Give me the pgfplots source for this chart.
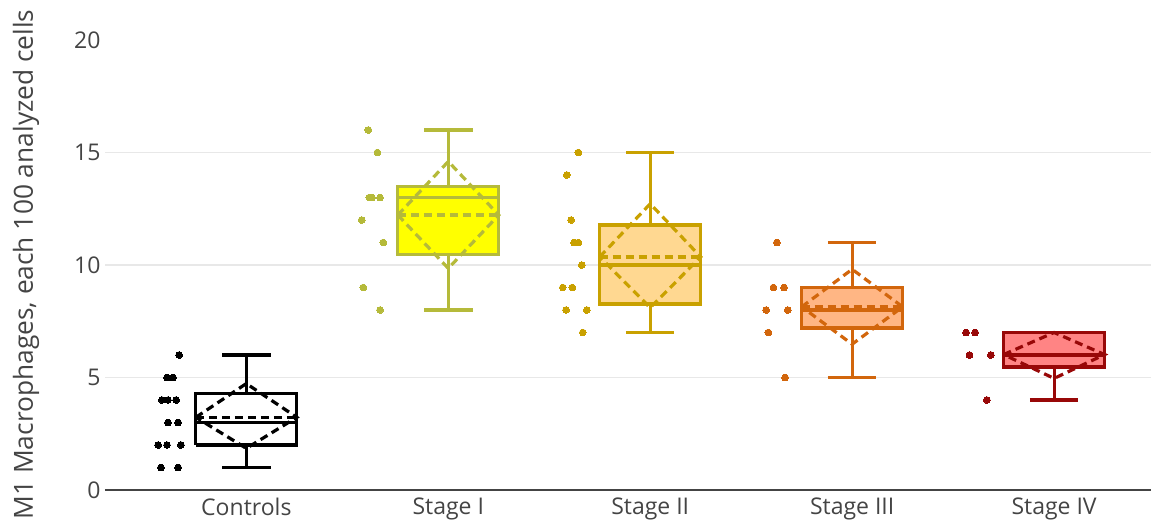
\documentclass[border=0pt]{standalone}
\usepackage{fontspec}
\setmainfont{Open Sans}
\usepackage{pgfplots}
\pgfplotsset{compat=1.18}
\definecolor{txt}{RGB}{68,68,68}
\definecolor{gridc}{RGB}{232,232,232}
\definecolor{zeroc}{RGB}{68,68,68}
\definecolor{lc0}{RGB}{0,0,0}
\definecolor{lc1}{RGB}{181,186,58}
\definecolor{fc1}{RGB}{255,255,0}
\definecolor{lc2}{RGB}{201,161,0}
\definecolor{fc2}{RGB}{255,216,145}
\definecolor{lc3}{RGB}{210,102,12}
\definecolor{fc3}{RGB}{255,182,132}
\definecolor{lc4}{RGB}{152,8,8}
\definecolor{fc4}{RGB}{255,132,132}
\begin{document}
\begin{tikzpicture}[font=\fontsize{23}{27}\selectfont]
\useasboundingbox (-105pt,-30pt) rectangle (1046pt,490pt);
\begin{axis}[
  at={(0pt,0pt)}, anchor=south west,
  scale only axis, width=1046pt, height=450pt,
  xmin=-0.7, xmax=4.48, ymin=0, ymax=20,
  axis x line*=bottom, axis y line*=left,
  x axis line style={draw=zeroc, line width=2.5pt},
  y axis line style={draw=none},
  xtick={0,1,2,3,4},
  xticklabels={Controls, Stage I, Stage II, Stage III, Stage IV},
  ytick={0,5,10,15},
  extra y ticks={20},
  extra y tick style={grid=none},
  ymajorgrids,
  grid style={draw=gridc, line width=1.5pt},
  major tick length=0pt,
  tick label style={text=txt, font=\fontsize{23}{27}\selectfont},
  xticklabel style={anchor=north, yshift=-4pt},
  yticklabel style={anchor=east, xshift=-1pt},
  /pgf/number format/assume math mode=true,
  clip=false,
  every axis plot/.append style={line width=3.2pt},
]
% ---------- Controls ----------
\addplot[draw=lc0] coordinates {(-0.25,2) (0.25,2) (0.25,4.28) (-0.25,4.28) (-0.25,2)};
\addplot[lc0] coordinates {(-0.25,3) (0.25,3)};
\addplot[lc0] coordinates {(0,4.28) (0,6)};
\addplot[lc0] coordinates {(0,2) (0,1)};
\addplot[lc0] coordinates {(-0.12,6) (0.12,6)};
\addplot[lc0] coordinates {(-0.12,1) (0.12,1)};
\addplot[lc0, dash pattern=on 8pt off 5pt] coordinates {(-0.25,3.23) (0.25,3.23)};
\addplot[lc0, dash pattern=on 8pt off 5pt] coordinates {(-0.25,3.23) (0,4.73) (0.25,3.23) (0,1.85) (-0.25,3.23)};
\addplot[only marks, mark=*, mark size=3.4pt, line width=0pt, lc0] coordinates {
(-0.333,6) (-0.393,5) (-0.363,5) (-0.418,4) (-0.388,4) (-0.348,4)
(-0.388,3) (-0.338,3) (-0.437,2) (-0.393,2) (-0.324,2) (-0.423,1) (-0.338,1)};
% ---------- Stage I ----------
\addplot[draw=lc1, fill=fc1] coordinates {(0.75,10.47) (1.25,10.47) (1.25,13.5) (0.75,13.5)} --cycle;
\addplot[lc1] coordinates {(0.75,13) (1.25,13)};
\addplot[lc1] coordinates {(1,13.5) (1,16)};
\addplot[lc1] coordinates {(1,10.47) (1,8)};
\addplot[lc1] coordinates {(0.88,16) (1.12,16)};
\addplot[lc1] coordinates {(0.88,8) (1.12,8)};
\addplot[lc1, dash pattern=on 8pt off 5pt] coordinates {(0.75,12.22) (1.25,12.22)};
\addplot[lc1, dash pattern=on 8pt off 5pt] coordinates {(0.75,12.22) (1,14.6) (1.25,12.22) (1,9.85) (0.75,12.22)};
\addplot[only marks, mark=*, mark size=3.4pt, line width=0pt, lc1] coordinates {
(0.604,16) (0.649,15) (0.609,13) (0.622,13) (0.662,13) (0.571,12) (0.678,11) (0.579,9) (0.662,8)};
% ---------- Stage II ----------
\addplot[draw=lc2, fill=fc2] coordinates {(1.75,8.27) (2.25,8.27) (2.25,11.78) (1.75,11.78)} --cycle;
\addplot[lc2] coordinates {(1.75,10) (2.25,10)};
\addplot[lc2] coordinates {(2,11.78) (2,15)};
\addplot[lc2] coordinates {(2,8.27) (2,7)};
\addplot[lc2] coordinates {(1.88,15) (2.12,15)};
\addplot[lc2] coordinates {(1.88,7) (2.12,7)};
\addplot[lc2, dash pattern=on 8pt off 5pt] coordinates {(1.75,10.36) (2.25,10.36)};
\addplot[lc2, dash pattern=on 8pt off 5pt] coordinates {(1.75,10.36) (2,12.72) (2.25,10.36) (2,8.1) (1.75,10.36)};
\addplot[only marks, mark=*, mark size=3.4pt, line width=0pt, lc2] coordinates {
(1.644,15) (1.587,14) (1.608,12) (1.623,11) (1.644,11) (1.661,10) (1.567,9) (1.614,9) (1.583,8) (1.686,8) (1.666,7)};
% ---------- Stage III ----------
\addplot[draw=lc3, fill=fc3] coordinates {(2.75,7.2) (3.25,7.2) (3.25,9) (2.75,9)} --cycle;
\addplot[lc3] coordinates {(2.75,8) (3.25,8)};
\addplot[lc3] coordinates {(3,9) (3,11)};
\addplot[lc3] coordinates {(3,7.2) (3,5)};
\addplot[lc3] coordinates {(2.88,11) (3.12,11)};
\addplot[lc3] coordinates {(2.88,5) (3.12,5)};
\addplot[lc3, dash pattern=on 8pt off 5pt] coordinates {(2.75,8.14) (3.25,8.14)};
\addplot[lc3, dash pattern=on 8pt off 5pt] coordinates {(2.75,8.14) (3,9.81) (3.25,8.14) (3,6.48) (2.75,8.14)};
\addplot[only marks, mark=*, mark size=3.4pt, line width=0pt, lc3] coordinates {
(2.627,11) (2.610,9) (2.663,9) (2.574,8) (2.681,8) (2.585,7) (2.668,5)};
% ---------- Stage IV ----------
\addplot[draw=lc4, fill=fc4] coordinates {(3.75,5.47) (4.25,5.47) (4.25,7) (3.75,7)} --cycle;
\addplot[lc4] coordinates {(3.75,6) (4.25,6)};
\addplot[lc4] coordinates {(4,5.47) (4,4)};
\addplot[lc4] coordinates {(3.88,7) (4.12,7)};
\addplot[lc4] coordinates {(3.88,4) (4.12,4)};
\addplot[lc4, dash pattern=on 8pt off 5pt] coordinates {(3.75,6.02) (4.25,6.02)};
\addplot[lc4, dash pattern=on 8pt off 5pt] coordinates {(3.75,6.02) (4,7) (4.25,6.02) (4,4.96) (3.75,6.02)};
\addplot[only marks, mark=*, mark size=3.4pt, line width=0pt, lc4] coordinates {
(3.564,7) (3.609,7) (3.581,6) (3.687,6) (3.667,4)};
\end{axis}
\node[rotate=90, anchor=base, text=txt, font=\fontsize{26.3}{30}\selectfont, inner sep=0pt] at (-72pt,225.5pt) {M1 Macrophages, each 100 analyzed cells};
\end{tikzpicture}
\end{document}
